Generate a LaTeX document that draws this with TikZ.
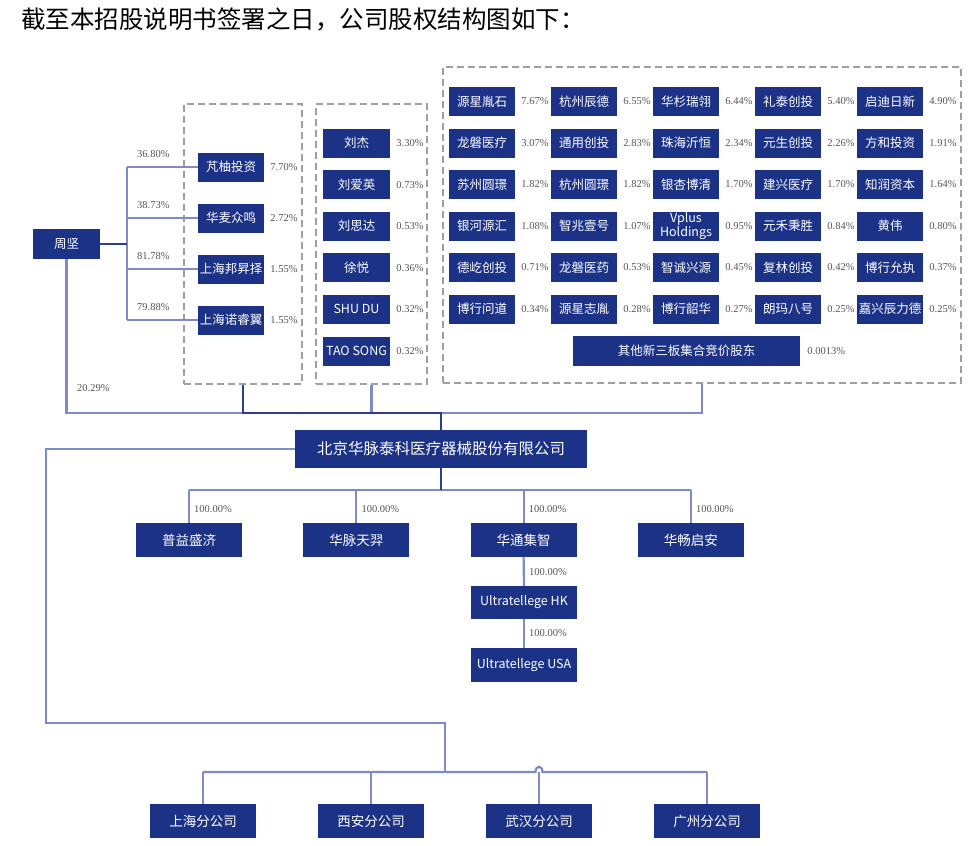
\documentclass[tikz,border=0pt]{standalone}
\usepackage{fontspec}
\setmainfont{Liberation Serif}
\newfontfamily\cjk{Noto Sans CJK SC}
\usetikzlibrary{positioning}
\definecolor{navy}{HTML}{1B3287}
\definecolor{linkblue}{HTML}{7E8BC6}
\definecolor{trunkblue}{HTML}{2C3E92}
\definecolor{pctgray}{HTML}{555555}

\tikzset{
  cbox/.style={fill=navy, text=white, inner sep=0pt, align=center,
    minimum width=66pt, minimum height=29pt, font=\cjk\fontsize{12.5}{14.5}\selectfont},
  subbox/.style={cbox, minimum width=106pt, minimum height=34pt, font=\cjk\fontsize{13.5}{15}\selectfont},
  pct/.style={text=pctgray, inner sep=0pt, anchor=west, font=\fontsize{10.5}{12}\selectfont},
  link/.style={draw=linkblue, line width=2.2pt},
  trunk/.style={draw=trunkblue, line width=2.6pt},
  grp/.style={draw=gray!75, dash pattern=on 7pt off 4pt, line width=1.1pt, inner sep=0pt},
}

\begin{document}
\begin{tikzpicture}[x=1pt,y=-1pt]
    \useasboundingbox[fill=white] (0,0) rectangle (972,846);

    % Title
    \node[anchor=west, inner sep=0pt, font=\cjk\fontsize{24.5}{27}\selectfont] (title) at (21,19)
        {截至本招股说明书签署之日，公司股权结构图如下：};

    % Shareholder groups
    \node[grp, minimum width=118pt, minimum height=280pt] (grpA) at (243,244) {};
    \node[grp, minimum width=111pt, minimum height=280pt] (grpB) at (371.5,244) {};
    \node[grp, minimum width=518pt, minimum height=316pt] (grpC) at (702,225) {};

    % Zhou Jian and his holding platforms
    \node[cbox, minimum width=67pt, minimum height=30pt] (zj) at (66.5,244) {周坚};
    \coordinate (zjbus) at (127,244);
    \foreach \name/\own/\hold [count=\k] in {芃柚投资/36.80/7.70, 华麦众鸣/38.73/2.72,
        上海邦昇择/81.78/1.55, 上海诺睿翼/79.88/1.55} {
        \node[cbox] (pf\k) at (231,{167+51*(\k-1)}) {\name};
        \node[pct] at ([xshift=6pt]pf\k.east) {\hold\%};
        \draw[link] (zjbus |- pf\k) -- (pf\k.west);
        \node[pct] at (137,{154+51*(\k-1)}) {\own\%};
    }
    \draw[link] (zjbus |- pf1) -- (zjbus |- pf4);
    \draw[trunk] (zj.east) -- (zjbus);

    % Individual shareholders
    \foreach \name/\hold [count=\k] in {刘杰/3.30, 刘爱英/0.73, 刘思达/0.53, 徐悦/0.36,
        SHU DU/0.32, TAO SONG/0.32} {
        \node[cbox, minimum width=67pt] (ps\k) at (356.5,{143+41.6*(\k-1)}) {\name};
        \node[pct] at ([xshift=6pt]ps\k.east) {\hold\%};
    }

    % Other shareholders
    \foreach \name/\hold [count=\k from 0] in {源星胤石/7.67, 杭州辰德/6.55, 华杉瑞翎/6.44, 礼泰创投/5.40, 启迪日新/4.90,
        龙磐医疗/3.07, 通用创投/2.83, 珠海沂恒/2.34, 元生创投/2.26, 方和投资/1.91,
        苏州圆璟/1.82, 杭州圆璟/1.82, 银杏博清/1.70, 建兴医疗/1.70, 知润资本/1.64,
        银河源汇/1.08, 智兆壹号/1.07, {Vplus\\Holdings}/0.95, 元禾秉胜/0.84, 黄伟/0.80,
        德屹创投/0.71, 龙磐医药/0.53, 智诚兴源/0.45, 复林创投/0.42, 博行允执/0.37,
        博行问道/0.34, 源星志胤/0.28, 博行韶华/0.27, 朗玛八号/0.25, 嘉兴辰力德/0.25} {
        \pgfmathtruncatemacro\col{mod(\k,5)}
        \pgfmathtruncatemacro\row{div(\k,5)}
        \node[cbox] (po\k) at ({482+102*\col},{101.5+41.5*\row}) {\name};
        \node[pct] at ([xshift=6pt]po\k.east) {\hold\%};
    }
    \node[cbox, minimum width=227pt, minimum height=30pt] (pother) at (686.5,351) {其他新三板集合竞价股东};
    \node[pct] at ([xshift=7pt]pother.east) {0.0013\%};

    % Issuer
    \node[cbox, minimum width=292pt, minimum height=38pt, font=\cjk\fontsize{15.5}{18}\selectfont] (co)
        at (441,449) {北京华脉泰科医疗器械股份有限公司};
    \coordinate (topbus) at (441,413);
    \draw[link] (zj.south) |- (grpC.south |- topbus) -- (grpC.south);
    \draw[link] (grpB.south) -- (grpB.south |- topbus);
    \draw[trunk] (grpA.south) -- (grpA.south |- topbus) -- (topbus) -- (co.north);
    \node[pct] at (77,388) {20.29\%};

    % Subsidiaries
    \coordinate (subbus) at (441,490);
    \foreach \name [count=\k] in {普益盛济, 华脉天羿, 华通集智, 华畅启安} {
        \node[subbox] (sub\k) at ({189+167.3*(\k-1)},540) {\name};
        \draw[link] (sub\k.north) -- (sub\k.north |- subbus);
        \node[pct] at ([xshift=5pt,yshift=14pt]sub\k.north) {100.00\%};
    }
    \draw[link] (sub1.north |- subbus) -- (sub4.north |- subbus);
    \draw[trunk] (co.south) -- (subbus);

    % Overseas
    \node[subbox, minimum height=33pt, font=\cjk\fontsize{12.5}{14}\selectfont] (hk) at (524,602.5) {Ultratellege HK};
    \node[subbox, font=\cjk\fontsize{12.5}{14}\selectfont] (usa) at (524,665) {Ultratellege USA};
    \draw[link] (sub3.south) -- (hk.north);
    \draw[link] (hk.south) -- (usa.north);
    \node[pct] at ([xshift=5pt,yshift=14pt]hk.north) {100.00\%};
    \node[pct] at ([xshift=5pt,yshift=15pt]usa.north) {100.00\%};

    % Branches
    \coordinate (brbus) at (445,772);
    \draw[link] (co.west) -| (46,723) -| (brbus);
    \foreach \name [count=\k] in {上海分公司, 西安分公司, 武汉分公司, 广州分公司} {
        \node[subbox] (br\k) at ({203+168*(\k-1)},821) {\name};
        \draw[link] (br\k.north) -- (br\k.north |- brbus);
    }
    \coordinate (bump) at (br3.north |- brbus);
    \draw[link] (br1.north |- brbus) -- ([xshift=-3.5pt]bump)
        .. controls ([shift={(-3.5pt,7pt)}]bump) and ([shift={(3.5pt,7pt)}]bump) .. ([xshift=3.5pt]bump)
        -- (br4.north |- brbus);
\end{tikzpicture}
\end{document}
